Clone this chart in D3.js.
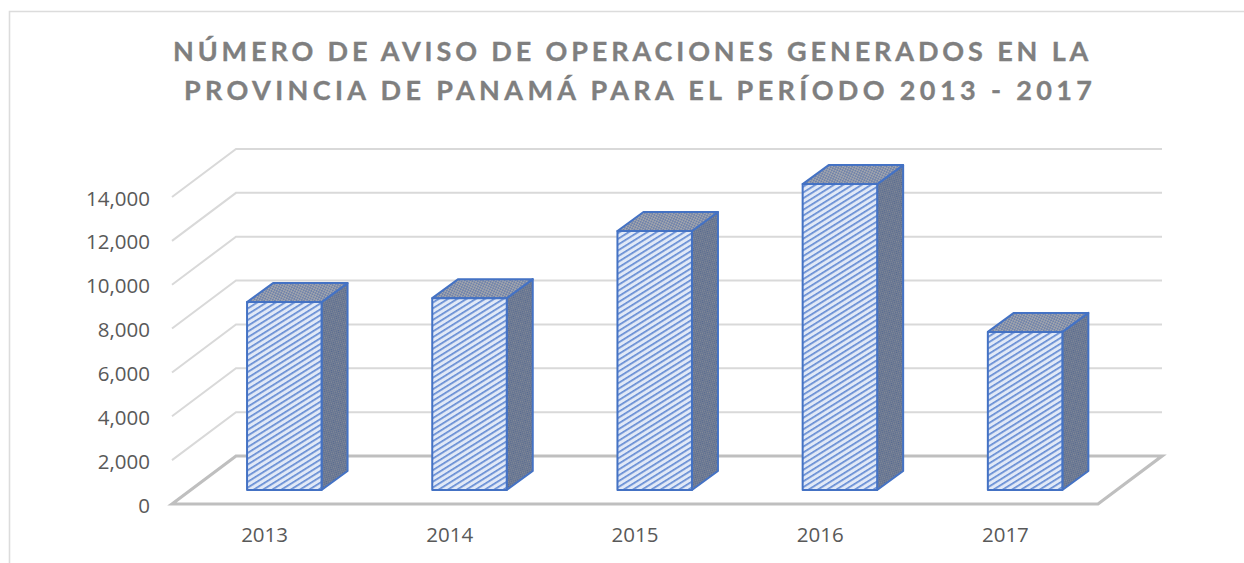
<!DOCTYPE html>
<html><head><meta charset="utf-8">
<script src="https://cdn.jsdelivr.net/npm/d3@7/dist/d3.min.js"></script>
<style>html,body{margin:0;padding:0;background:#fff;overflow:hidden}svg{display:block}</style>
</head><body><div id="c"></div>
<script>
const years = ["2013","2014","2015","2016","2017"];
const avisos = [8570, 8750, 11810, 13950, 7210];
const yTicks = [0,2000,4000,6000,8000,10000,12000,14000];
const titleLines = ["NÚMERO DE AVISO DE OPERACIONES GENERADOS EN LA","PROVINCIA DE PANAMÁ PARA EL PERÍODO 2013 - 2017"];

const W=1244,H=563;
const svg=d3.select("#c").append("svg").attr("width",W).attr("height",H);
const defs=svg.append("defs");

const stripe=defs.append("pattern").attr("id","stripe").attr("patternUnits","userSpaceOnUse")
  .attr("width",6).attr("height",4.9).attr("patternTransform","rotate(-32)");
stripe.append("rect").attr("width",6).attr("height",4.9).attr("fill","#e1e9f7");
stripe.append("rect").attr("y",0).attr("width",6).attr("height",1.7).attr("fill","#648bd3");

function dots(id,a,b,s,rot){
  const p=defs.append("pattern").attr("id",id).attr("patternUnits","userSpaceOnUse")
    .attr("width",s).attr("height",s).attr("patternTransform",`rotate(${rot})`);
  p.append("rect").attr("width",s).attr("height",s).attr("fill",a);
  p.append("rect").attr("width",s/2).attr("height",s/2).attr("fill",b);
  p.append("rect").attr("x",s/2).attr("y",s/2).attr("width",s/2).attr("height",s/2).attr("fill",b);
}
dots("sidePat","#858b98","#56698f",2.6,-30);
dots("topPat","#a3a6ad","#6f82aa",3.4,-20);

// chart frame (cropped on the right and bottom)
svg.append("path").attr("d",`M9.5,${H}V11.5H${W}`).attr("fill","none").attr("stroke","#dcdcdc").attr("stroke-width",1.6);

// title
const titleX=[173,184], titleSpacing=[3.88,4.37];
const title=svg.append("g").attr("font-family","Lato, 'Open Sans', sans-serif").attr("font-weight",700)
  .attr("font-size",27).attr("fill","#7f7f7f").attr("stroke","#7f7f7f").attr("stroke-width",0.35);
title.selectAll("text").data(titleLines).join("text")
  .attr("x",(d,i)=>titleX[i]).attr("y",(d,i)=>61+i*39).style("letter-spacing",(d,i)=>titleSpacing[i]+"px").text(d=>d);

// scales
const x=d3.scaleBand().domain(years).range([172,1098]);
const wall=d3.scaleLinear().domain([0,14000]).range([456,149]);
const depthX=64, depthY=48;          // floor depth
const barDX=26, barDY=19;            // bar depth
const barFront=d3.scaleLinear().domain([0,14000]).range([490,183]);
const barW=74.5, barShift=19.7;

// gridlines on back + side wall
const grid=svg.append("g").attr("fill","none").attr("stroke","#d9d9d9").attr("stroke-width",2);
grid.selectAll("path").data(yTicks.filter(d=>d>0)).join("path")
  .attr("d",d=>`M172,${wall(d)+depthY}L${172+depthX},${wall(d)}H${1098+depthX}`);

// floor
svg.append("path").attr("d",`M172,504L236,456H1162L1098,504Z`).attr("fill","none")
  .attr("stroke","#bfbfbf").attr("stroke-width",3.2).attr("stroke-linejoin","miter");

// bars
const bars=svg.append("g").selectAll("g").data(years.map((y,i)=>({y,v:avisos[i]}))).join("g")
  .attr("stroke","#4472c4").attr("stroke-width",2).attr("stroke-linejoin","round");
const bx=d=>x(d.y)+x.bandwidth()/2+barShift-barW/2;
bars.append("path").attr("fill","url(#sidePat)")
  .attr("d",d=>{const r=bx(d)+barW,t=barFront(d.v),b=barFront(0);
    return `M${r},${t}L${r+barDX},${t-barDY}V${b-barDY}L${r},${b}Z`;});
bars.append("path").attr("fill","url(#topPat)")
  .attr("d",d=>{const l=bx(d),t=barFront(d.v);
    return `M${l},${t}L${l+barDX},${t-barDY}H${l+barW+barDX}L${l+barW},${t}Z`;});
bars.append("rect").attr("fill","url(#stripe)")
  .attr("x",bx).attr("y",d=>barFront(d.v)).attr("width",barW).attr("height",d=>barFront(0)-barFront(d.v));

// axis labels
const lab=svg.append("g").attr("font-family","'Open Sans', sans-serif").attr("font-size",20.5).attr("fill","#595959");
lab.selectAll(".yl").data(yTicks).join("text").attr("class","yl")
  .attr("x",150).attr("y",d=>wall(d)+48+8.5).attr("text-anchor","end").text(d3.format(","));
lab.selectAll(".xl").data(years).join("text").attr("class","xl")
  .attr("x",d=>x(d)+x.bandwidth()/2).attr("y",541.5).attr("text-anchor","middle").text(d=>d);
</script></body></html>
